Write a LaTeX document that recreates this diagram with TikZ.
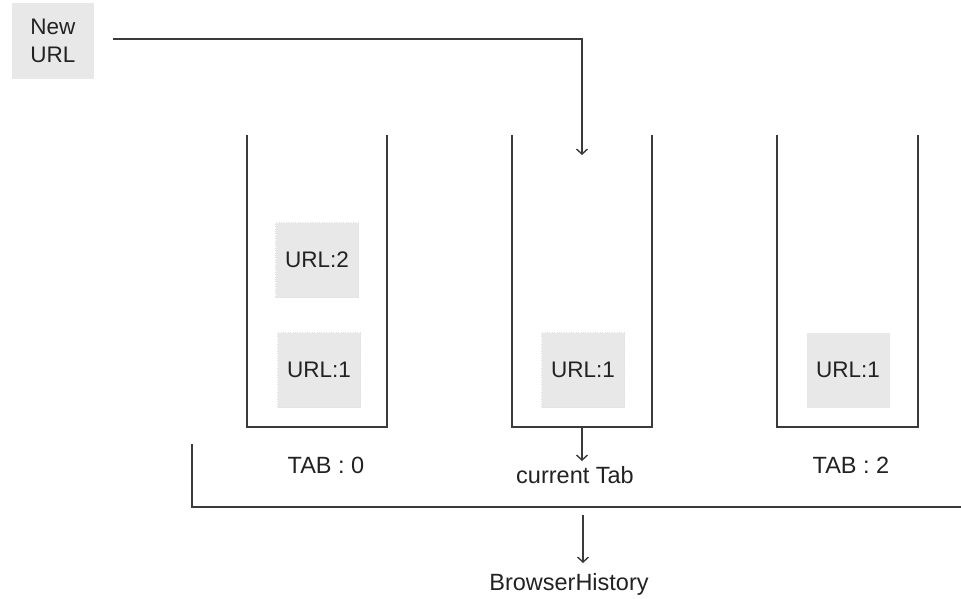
\documentclass[tikz,border=0pt]{standalone}
\usepackage{fontspec}
\setmainfont{Liberation Sans}
\usetikzlibrary{arrows.meta}
\definecolor{ln}{HTML}{3A3A3A}
\definecolor{boxfill}{HTML}{E8E8E8}
\definecolor{txt}{HTML}{222222}
\tikzset{
  lin/.style={draw=ln, line width=1.4pt},
  arr/.style={lin, -{Straight Barb[length=5pt,width=11pt,line width=1.4pt]}},
  urlbox/.style={fill=boxfill, draw=gray!25, dotted, minimum width=83pt, minimum height=75pt, inner sep=0pt, text=txt, font=\fontsize{22.5}{27}\selectfont},
  lbl/.style={text=txt, font=\fontsize{23.5}{28}\selectfont, inner sep=0pt, anchor=base},
}
\begin{document}
\begin{tikzpicture}[x=1pt,y=1pt]
\useasboundingbox (0,0) rectangle (961,-599);
% New URL box
\node[fill=boxfill, minimum width=82pt, minimum height=76pt, inner sep=0pt, align=left, text=txt,
      font=\fontsize{22.5}{28}\selectfont] (newurl) at (53,-41) {New\\URL};
% tabs (open containers)
\draw[lin] (247,-135) -- (247,-427) -- (387,-427) -- (387,-135);
\draw[lin] (512,-135) -- (512,-427) -- (652,-427) -- (652,-135);
\draw[lin] (777,-135) -- (777,-427) -- (918,-427) -- (918,-135);
% url boxes
\node[urlbox] (t0u2) at (317,-260) {URL:2};
\node[urlbox] (t0u1) at (319,-370) {URL:1};
\node[urlbox] (t1u1) at (583,-370) {URL:1};
\node[urlbox, draw=none] (t2u1) at (848,-370) {URL:1};
% labels
\node[lbl] (tab0) at (326,-473) {TAB : 0};
\node[lbl] (cur) at (575,-483) {current Tab};
\node[lbl] (tab2) at (851,-473) {TAB : 2};
\node[lbl] (bh) at (569,-590) {BrowserHistory};
% outer bracket
\draw[lin] (192,-444) -- (192,-507) -- (961,-507);
% connectors
\coordinate (start) at (113,-39);
\coordinate (tab1in) at (582,-155);
\coordinate (tab1bot) at (582,-427);
\coordinate (curin) at (582,-461);
\coordinate (bhout) at (583,-515);
\coordinate (bhin) at (583,-563);
\draw[arr] (start) -| (tab1in);
\draw[arr] (tab1bot) -- (curin);
\draw[arr] (bhout) -- (bhin);
\end{tikzpicture}
\end{document}
